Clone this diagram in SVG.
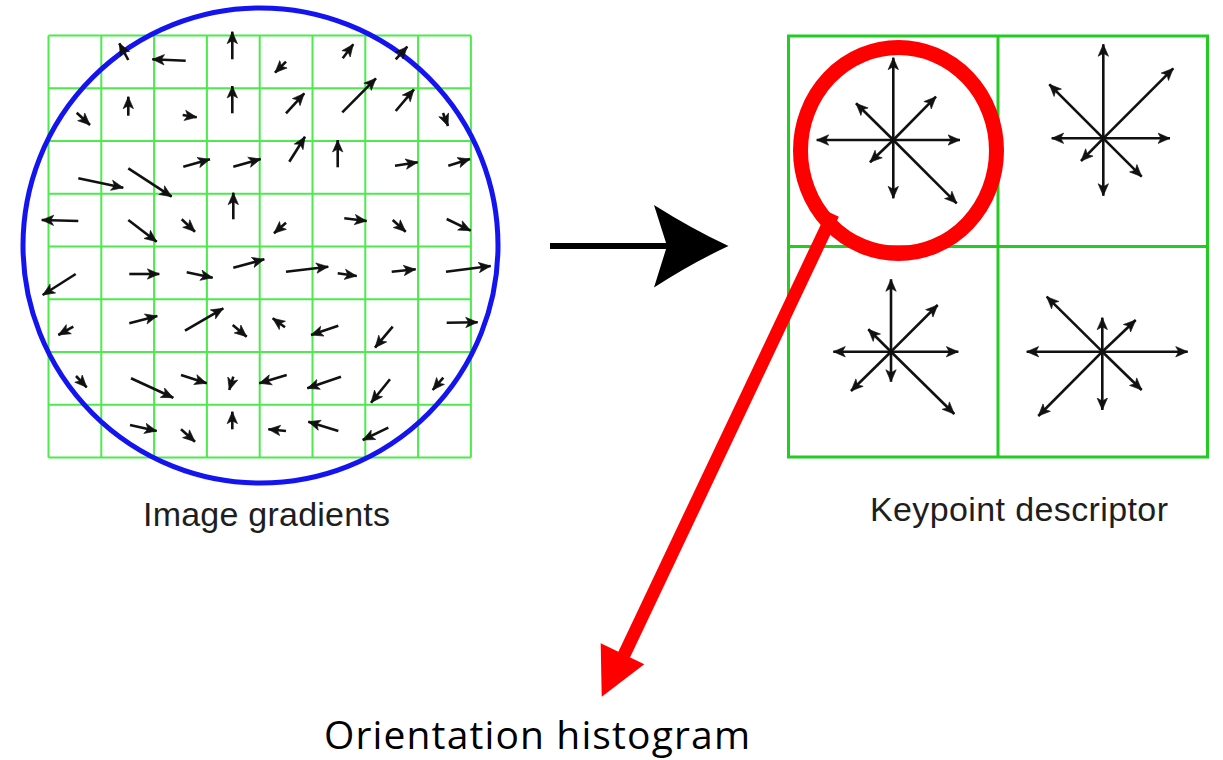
<svg xmlns="http://www.w3.org/2000/svg" width="1223" height="760" viewBox="0 0 1223 760">
<style>
.grid{stroke:#4de94d;stroke-width:2;fill:none}
.box{stroke:#22cc22;stroke-width:3;fill:none}
.ga{stroke:#111;stroke-width:2.6;marker-end:url(#ah)}
.lbl{font-family:"Liberation Sans",Arial,sans-serif;font-size:34px;fill:#1e1e1e}
.big{font-family:"Open Sans","Noto Sans",sans-serif;font-size:39px;fill:#000}
</style>
<defs>
<marker id="ah" viewBox="-0.5 -6 13.5 12" refX="12" refY="0" markerWidth="13.5" markerHeight="12" markerUnits="userSpaceOnUse" orient="auto">
<path d="M0,-5.2 L12,0 L0,5.2 L3,0 Z" fill="#111" stroke="#111" stroke-width="0.6" stroke-linejoin="miter"/>
</marker>
</defs>
<rect width="1223" height="760" fill="#fff"/>

<g id="image-gradients">
<g class="grid">
<path d="M48.5,35.5V457.5M101.3,35.5V457.5M154.1,35.5V457.5M206.9,35.5V457.5M259.7,35.5V457.5M312.5,35.5V457.5M365.3,35.5V457.5M418.1,35.5V457.5M470.9,35.5V457.5"/>
<path d="M48.5,35.5H470.9M48.5,88.25H470.9M48.5,141H470.9M48.5,193.75H470.9M48.5,246.5H470.9M48.5,299.25H470.9M48.5,352H470.9M48.5,404.75H470.9M48.5,457.5H470.9"/>
</g>
<circle cx="260.5" cy="245.5" r="237.5" fill="none" stroke="#1414f0" stroke-width="5"/>
<g id="gradient-arrows">
<line class="ga" x1="128.3" y1="60" x2="119.3" y2="43.3"/>
<line class="ga" x1="185.7" y1="60.7" x2="152.3" y2="59.3"/>
<line class="ga" x1="232.3" y1="59.3" x2="232.3" y2="31.7"/>
<line class="ga" x1="286" y1="61.7" x2="275" y2="72.7"/>
<line class="ga" x1="342.7" y1="58.3" x2="353.3" y2="44.3"/>
<line class="ga" x1="395.7" y1="59.3" x2="407.3" y2="46.7"/>

<line class="ga" x1="76.7" y1="112.7" x2="90" y2="125"/>
<line class="ga" x1="128.3" y1="115.7" x2="128.3" y2="96.7"/>
<line class="ga" x1="182.7" y1="115" x2="196.7" y2="117.3"/>
<line class="ga" x1="232.3" y1="113.3" x2="232.3" y2="86"/>
<line class="ga" x1="286" y1="113.3" x2="304.3" y2="93.3"/>
<line class="ga" x1="342.3" y1="112.3" x2="376" y2="78.3"/>
<line class="ga" x1="395.7" y1="111" x2="414" y2="89.3"/>
<line class="ga" x1="443" y1="113" x2="448" y2="126"/>

<line class="ga" x1="78.3" y1="178.3" x2="123.3" y2="187.7"/>
<line class="ga" x1="128.3" y1="168.3" x2="171.7" y2="196.7"/>
<line class="ga" x1="183.3" y1="166.7" x2="210" y2="159.3"/>
<line class="ga" x1="233.3" y1="166.7" x2="260.7" y2="159"/>
<line class="ga" x1="289.3" y1="161.7" x2="305" y2="136.7"/>
<line class="ga" x1="337.7" y1="167.3" x2="337.7" y2="140"/>
<line class="ga" x1="395" y1="165.7" x2="417.7" y2="162.3"/>
<line class="ga" x1="448.3" y1="165.7" x2="470" y2="159"/>

<line class="ga" x1="78.3" y1="221" x2="41.7" y2="220"/>
<line class="ga" x1="128.3" y1="220" x2="156.7" y2="241.7"/>
<line class="ga" x1="181.7" y1="219.3" x2="195" y2="231.7"/>
<line class="ga" x1="233.3" y1="219.3" x2="233.3" y2="192.7"/>
<line class="ga" x1="286" y1="222.7" x2="274" y2="233.3"/>
<line class="ga" x1="344.3" y1="218.3" x2="366.7" y2="221"/>
<line class="ga" x1="392.7" y1="220" x2="405.7" y2="231.7"/>
<line class="ga" x1="446.7" y1="219" x2="470.7" y2="230.7"/>

<line class="ga" x1="75.7" y1="274" x2="42.7" y2="295"/>
<line class="ga" x1="129.3" y1="274" x2="159.3" y2="274"/>
<line class="ga" x1="186.7" y1="272.3" x2="212.7" y2="277.7"/>
<line class="ga" x1="233.3" y1="267.7" x2="264.3" y2="259.3"/>
<line class="ga" x1="286" y1="271.7" x2="328.3" y2="266.7"/>
<line class="ga" x1="337.7" y1="273.3" x2="356.7" y2="276"/>
<line class="ga" x1="391.7" y1="271.7" x2="415.7" y2="269.3"/>
<line class="ga" x1="446" y1="271.7" x2="490.7" y2="266"/>

<line class="ga" x1="73.3" y1="326.7" x2="58.3" y2="335"/>
<line class="ga" x1="129.3" y1="323.3" x2="157.3" y2="316"/>
<line class="ga" x1="185" y1="330.7" x2="223.3" y2="308.3"/>
<line class="ga" x1="232.7" y1="325" x2="246.7" y2="336.7"/>
<line class="ga" x1="285" y1="327.3" x2="272.7" y2="318.3"/>
<line class="ga" x1="338.3" y1="325.7" x2="311" y2="335"/>
<line class="ga" x1="392.7" y1="326.7" x2="375" y2="347.7"/>
<line class="ga" x1="446.7" y1="322.7" x2="477.7" y2="322.3"/>

<line class="ga" x1="76" y1="376" x2="86.7" y2="387.3"/>
<line class="ga" x1="131" y1="378.3" x2="173.3" y2="397.7"/>
<line class="ga" x1="181" y1="375" x2="206.7" y2="383.3"/>
<line class="ga" x1="233.3" y1="376.7" x2="229.3" y2="390"/>
<line class="ga" x1="286.7" y1="375" x2="259.3" y2="383.3"/>
<line class="ga" x1="341" y1="376.7" x2="307.3" y2="388.3"/>
<line class="ga" x1="390" y1="379.3" x2="371" y2="402.7"/>
<line class="ga" x1="443.3" y1="377.7" x2="432.7" y2="390"/>

<line class="ga" x1="130" y1="425" x2="156.7" y2="431"/>
<line class="ga" x1="181" y1="429.3" x2="195" y2="441.7"/>
<line class="ga" x1="232.3" y1="429.3" x2="232.3" y2="411.7"/>
<line class="ga" x1="286" y1="431" x2="268.3" y2="429.3"/>
<line class="ga" x1="338.3" y1="431" x2="308.3" y2="421.7"/>
<line class="ga" x1="388.3" y1="427.7" x2="362.7" y2="440"/>
</g>
<text class="lbl" x="143" y="526" textLength="247" lengthAdjust="spacing">Image gradients</text>
</g>

<g id="keypoint-descriptor">
<rect class="box" x="788.5" y="36" width="419" height="421"/>
<path class="box" d="M998,36V457M788.5,246.5H1207.5"/>
<g id="hist-tl">
<line class="ga" x1="893.3" y1="140" x2="893.3" y2="57.7"/>
<line class="ga" x1="893.3" y1="140" x2="960" y2="140"/>
<line class="ga" x1="893.3" y1="140" x2="816.7" y2="140"/>
<line class="ga" x1="893.3" y1="140" x2="893.3" y2="198.3"/>
<line class="ga" x1="893.3" y1="140" x2="936" y2="96.7"/>
<line class="ga" x1="893.3" y1="140" x2="856" y2="103.3"/>
<line class="ga" x1="893.3" y1="140" x2="870" y2="162.3"/>
<line class="ga" x1="893.3" y1="140" x2="956.7" y2="203.3"/>
</g>
<g id="hist-tr">
<line class="ga" x1="1103.3" y1="138.3" x2="1103.3" y2="44.3"/>
<line class="ga" x1="1103.3" y1="138.3" x2="1173.3" y2="68.3"/>
<line class="ga" x1="1103.3" y1="138.3" x2="1049.3" y2="84.3"/>
<line class="ga" x1="1103.3" y1="138.3" x2="1051.7" y2="138.3"/>
<line class="ga" x1="1103.3" y1="138.3" x2="1170" y2="138.3"/>
<line class="ga" x1="1103.3" y1="138.3" x2="1081" y2="161"/>
<line class="ga" x1="1103.3" y1="138.3" x2="1103.3" y2="195.7"/>
<line class="ga" x1="1103.3" y1="138.3" x2="1141.7" y2="176.7"/>
</g>
<g id="hist-bl">
<line class="ga" x1="891" y1="351.7" x2="891" y2="279.3"/>
<line class="ga" x1="891" y1="351.7" x2="937.7" y2="305"/>
<line class="ga" x1="891" y1="351.7" x2="868.3" y2="329.3"/>
<line class="ga" x1="891" y1="351.7" x2="833.3" y2="351.7"/>
<line class="ga" x1="891" y1="351.7" x2="958.3" y2="351.7"/>
<line class="ga" x1="891" y1="351.7" x2="851" y2="391"/>
<line class="ga" x1="891" y1="351.7" x2="891" y2="381.7"/>
<line class="ga" x1="891" y1="351.7" x2="954.3" y2="414"/>
</g>
<g id="hist-br">
<line class="ga" x1="1102.3" y1="351.7" x2="1102.3" y2="317.7"/>
<line class="ga" x1="1102.3" y1="351.7" x2="1135.7" y2="320"/>
<line class="ga" x1="1102.3" y1="351.7" x2="1046.7" y2="296.7"/>
<line class="ga" x1="1102.3" y1="351.7" x2="1026.7" y2="351.7"/>
<line class="ga" x1="1102.3" y1="351.7" x2="1187.7" y2="351.7"/>
<line class="ga" x1="1102.3" y1="351.7" x2="1038.3" y2="416"/>
<line class="ga" x1="1102.3" y1="351.7" x2="1102.3" y2="410"/>
<line class="ga" x1="1102.3" y1="351.7" x2="1141.7" y2="390"/>
</g>
<text class="lbl" x="870" y="521" textLength="298" lengthAdjust="spacing">Keypoint descriptor</text>
</g>

<g id="orientation-highlight">
<ellipse cx="898.5" cy="150.5" rx="98" ry="103" fill="none" stroke="#ff0000" stroke-width="15"/>
</g>

<g id="orientation-histogram">
<text class="big" x="324" y="749" textLength="426" lengthAdjust="spacing">Orientation histogram</text>
</g>

<g id="connectors">
<g id="arrow-to-descriptor">
<line x1="550" y1="246" x2="668" y2="246" stroke="#000" stroke-width="6"/>
<path d="M654,205 Q692,229 728.5,246 Q692,263 654,287.5 L667,246 Z" fill="#000"/>
</g>
<g id="arrow-to-histogram">
<line x1="833" y1="214" x2="624" y2="655" stroke="#ff0000" stroke-width="13"/>
<polygon points="601.7,696.7 600.7,643.3 644.3,664.3" fill="#ff0000"/>
</g>
</g>
</svg>
